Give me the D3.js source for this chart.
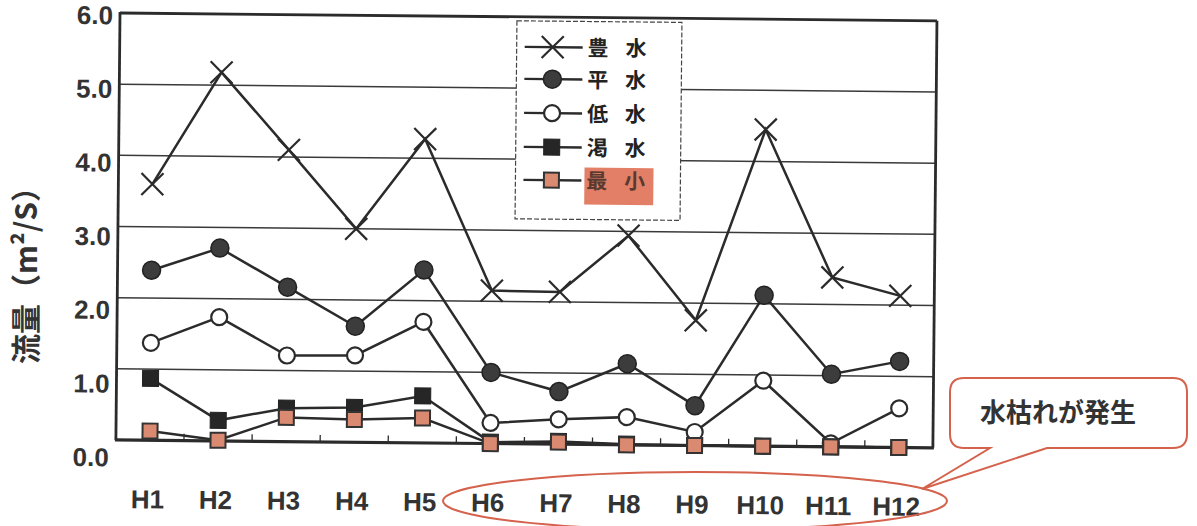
<!DOCTYPE html>
<html>
<head>
<meta charset="utf-8">
<script src="https://cdn.jsdelivr.net/npm/d3@7"></script>
<style>
  html, body { margin: 0; padding: 0; background: #fff; }
  svg { display: block; }
</style>
</head>
<body>
<svg id="chart" width="1197" height="526"></svg>
<script>
// Fiscal years
const categories = ["H1", "H2", "H3", "H4", "H5", "H6", "H7", "H8", "H9", "H10", "H11", "H12"];

// Flow rates (m²/s) per year
const hosui  = [3.60, 5.18, 4.10, 3.00, 4.27, 2.15, 2.14, 2.94, 1.76, 4.45, 2.38, 2.13];
const heisui = [2.39, 2.71, 2.17, 1.63, 2.43, 1.00, 0.74, 1.14, 0.56, 2.12, 1.02, 1.21];
const teisui = [1.37, 1.74, 1.21, 1.22, 1.70, 0.29, 0.35, 0.39, 0.19, 0.92, 0.05, 0.55];
const kassui = [0.87, 0.29, 0.47, 0.49, 0.66, 0.02, 0.04, 0.01, 0.00, 0.00, 0.00, 0.00];
const saisho = [0.13, 0.01, 0.34, 0.32, 0.35, 0.00, 0.03, 0.00, 0.00, 0.00, 0.00, 0.00];

const seriesNames = ["豊 水", "平 水", "低 水", "渇 水", "最 小"];
const yTickValues = [0, 1, 2, 3, 4, 5, 6];
const yTickLabels = ["0.0", "1.0", "2.0", "3.0", "4.0", "5.0", "6.0"];
const yTitle = "流量（m²/S）";
const calloutText = "水枯れが発生";

const LATIN = "'Liberation Sans', Arial, sans-serif";
const CJK = "'Noto Sans CJK JP', 'Noto Sans', sans-serif";
const INK = "#2b2b2b";

const svg = d3.select("#chart");

// Plot frame
const plotLeft = 120, plotTop = 13, plotW = 817, plotH = 427;

const x = d3.scalePoint().domain(categories).range([0, plotW]).padding(0.5);
const y = d3.scaleLinear().domain([0, 6]).range([plotH, 0]);
// tick label placement runs a little below each gridline
const yLabel = d3.scaleLinear().domain([0, 6]).range([444, 2]);

// slight tilt of the whole plot
const g = svg.append("g")
  .attr("transform", `translate(${plotLeft},${plotTop}) rotate(0.55)`);

// horizontal gridlines
g.append("g").selectAll("line")
  .data(yTickValues.filter(v => v > 0 && v < 6))
  .join("line")
  .attr("x1", 0).attr("x2", plotW)
  .attr("y1", d => y(d)).attr("y2", d => y(d))
  .attr("stroke", "#3a3a3a").attr("stroke-width", 1.5);

// frame
g.append("line").attr("x1", 0).attr("x2", plotW).attr("y1", 0).attr("y2", 0)
  .attr("stroke", INK).attr("stroke-width", 2.8);
g.append("line").attr("x1", plotW).attr("x2", plotW).attr("y1", 0).attr("y2", plotH)
  .attr("stroke", INK).attr("stroke-width", 2.8);
g.append("line").attr("x1", 0).attr("x2", 0).attr("y1", -1).attr("y2", plotH)
  .attr("stroke", INK).attr("stroke-width", 2.8);
g.append("line").attr("x1", -1).attr("x2", plotW + 1).attr("y1", plotH).attr("y2", plotH)
  .attr("stroke", INK).attr("stroke-width", 3.2);

// category boundary ticks on the bottom axis
const step = x.step();
g.append("g").selectAll("line")
  .data(categories.slice(1))
  .join("line")
  .attr("x1", d => x(d) - step / 2).attr("x2", d => x(d) - step / 2)
  .attr("y1", plotH).attr("y2", plotH - 7)
  .attr("stroke", INK).attr("stroke-width", 1.3);

// y tick labels
g.append("g").selectAll("text")
  .data(yTickValues)
  .join("text")
  .attr("x", -7)
  .attr("y", d => yLabel(d))
  .attr("dy", "0.36em")
  .attr("text-anchor", "end")
  .attr("font-family", LATIN)
  .attr("font-weight", "bold")
  .attr("font-size", 26)
  .attr("fill", "#333")
  .text((d, i) => yTickLabels[i]);

// x tick labels
g.append("g").selectAll("text")
  .data(categories)
  .join("text")
  .attr("x", d => x(d) - 2)
  .attr("y", 495)
  .attr("text-anchor", "middle")
  .attr("font-family", LATIN)
  .attr("font-weight", "bold")
  .attr("font-size", 26)
  .attr("fill", "#333")
  .text(d => d);

// marker drawers
const markers = [
  (sel) => { // cross
    const s = 11;
    sel.append("path")
      .attr("d", `M${-s},${-s}L${s},${s}M${-s},${s}L${s},${-s}`)
      .attr("stroke", INK).attr("stroke-width", 2.2).attr("fill", "none");
  },
  (sel) => { // filled circle
    sel.append("circle").attr("r", 9)
      .attr("fill", "#3c3c3c").attr("stroke", "#222").attr("stroke-width", 1.5);
  },
  (sel) => { // open circle
    sel.append("circle").attr("r", 8)
      .attr("fill", "#fff").attr("stroke", INK).attr("stroke-width", 2.2);
  },
  (sel) => { // filled square
    sel.append("rect").attr("x", -8).attr("y", -8).attr("width", 16).attr("height", 16)
      .attr("fill", "#262626").attr("stroke", "#222").attr("stroke-width", 1);
  },
  (sel) => { // light square
    sel.append("rect").attr("x", -7.5).attr("y", -7.5).attr("width", 15).attr("height", 15)
      .attr("fill", "#d98a70").attr("stroke", "#333").attr("stroke-width", 2);
  }
];

const seriesValues = [hosui, heisui, teisui, kassui, saisho];
const line = d3.line().x(d => x(d.cat)).y(d => y(d.v));

seriesValues.forEach((vals, si) => {
  const pts = vals.map((v, i) => ({ cat: categories[i], v }));
  const sg = g.append("g");
  sg.append("path")
    .datum(pts)
    .attr("d", line)
    .attr("fill", "none")
    .attr("stroke", INK)
    .attr("stroke-width", 2.5);
  sg.selectAll("g.m")
    .data(pts)
    .join("g")
    .attr("class", "m")
    .attr("transform", d => `translate(${x(d.cat)},${y(d.v)})`)
    .each(function () { markers[si](d3.select(this)); });
});

// legend
const lg = g.append("g").attr("transform", "translate(397,4)");
lg.append("rect")
  .attr("x", 0).attr("y", 0).attr("width", 165).attr("height", 198)
  .attr("fill", "#fff").attr("stroke", "#444").attr("stroke-width", 1.2)
  .attr("stroke-dasharray", "5,2");
const rowY = [26, 58, 92, 126, 159];
seriesNames.forEach((name, i) => {
  const row = lg.append("g").attr("transform", `translate(0,${rowY[i]})`);
  row.append("line").attr("x1", 8).attr("x2", 66).attr("y1", 0).attr("y2", 0)
    .attr("stroke", INK).attr("stroke-width", 2.4);
  const m = row.append("g").attr("transform", "translate(36,0)");
  markers[i](m);
  if (i === 4) {
    row.append("rect").attr("x", 69).attr("y", -13).attr("width", 69).attr("height", 37)
      .attr("fill", "#e27f66");
  }
  row.append("text")
    .attr("x", 71).attr("y", 0).attr("dy", "0.38em")
    .attr("font-family", CJK).attr("font-weight", "bold")
    .attr("font-size", 21)
    .attr("letter-spacing", 6)
    .attr("fill", i === 4 ? "#5a3a30" : "#222")
    .text(name);
});

// y axis title
svg.append("text")
  .attr("transform", "translate(37,268) rotate(-90)")
  .attr("text-anchor", "middle")
  .attr("font-family", CJK).attr("font-weight", "bold")
  .attr("font-size", 30)
  .attr("fill", "#333")
  .text(yTitle);

// highlighted years and callout
const RED = "#d4624c";
svg.append("ellipse")
  .attr("cx", 695).attr("cy", 501).attr("rx", 252).attr("ry", 29)
  .attr("fill", "none").attr("stroke", RED).attr("stroke-width", 2);

const bx0 = 950, bx1 = 1187, by0 = 378, by1 = 448, r = 14;
const tipX = 922, tipY = 489, w0 = 990, w1 = 1047;
const bubble = d3.path();
bubble.moveTo(bx0 + r, by0);
bubble.lineTo(bx1 - r, by0);
bubble.quadraticCurveTo(bx1, by0, bx1, by0 + r);
bubble.lineTo(bx1, by1 - r);
bubble.quadraticCurveTo(bx1, by1, bx1 - r, by1);
bubble.lineTo(w1, by1);
bubble.lineTo(tipX, tipY);
bubble.lineTo(w0, by1);
bubble.lineTo(bx0 + r, by1);
bubble.quadraticCurveTo(bx0, by1, bx0, by1 - r);
bubble.lineTo(bx0, by0 + r);
bubble.quadraticCurveTo(bx0, by0, bx0 + r, by0);
bubble.closePath();
svg.append("path")
  .attr("d", bubble.toString())
  .attr("fill", "#fff").attr("stroke", RED).attr("stroke-width", 2);

svg.append("text")
  .attr("x", 1058).attr("y", 413).attr("dy", "0.36em")
  .attr("text-anchor", "middle")
  .attr("font-family", CJK).attr("font-weight", "bold")
  .attr("font-size", 26)
  .attr("fill", "#333")
  .text(calloutText);
</script>
</body>
</html>
